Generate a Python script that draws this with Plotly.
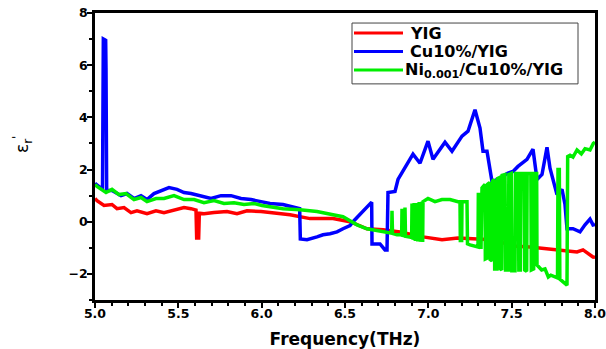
import plotly.graph_objects as go

# Real part of relative permittivity versus frequency (THz)
freq_yig = [5.000, 5.012, 5.054, 5.102, 5.132, 5.174, 5.216, 5.252, 5.312, 5.366,
            5.414, 5.474, 5.534, 5.576, 5.606, 5.610, 5.622, 5.626, 5.654, 5.714,
            5.792, 5.852, 5.912, 5.996, 6.068, 6.170, 6.290, 6.428, 6.530, 6.632,
            6.728, 6.830, 6.968, 7.082, 7.178, 7.310, 7.382, 7.430, 7.508, 7.610,
            7.712, 7.808, 7.892, 7.928, 7.988, 8.000]
eps_yig = [0.89, 0.81, 0.62, 0.66, 0.50, 0.54, 0.35, 0.42, 0.31, 0.42,
           0.35, 0.46, 0.54, 0.50, 0.45, -0.62, -0.62, 0.33, 0.31, 0.35,
           0.39, 0.31, 0.42, 0.39, 0.35, 0.27, 0.12, 0.12, 0.00, -0.27,
           -0.31, -0.39, -0.58, -0.69, -0.62, -0.66, -0.69, -0.77, -0.93, -0.97,
           -1.04, -1.08, -1.16, -1.08, -1.35, -1.36]

freq_cu = [5.000, 5.030, 5.045, 5.050, 5.064, 5.066, 5.070, 5.102, 5.156, 5.192,
           5.234, 5.276, 5.312, 5.354, 5.396, 5.444, 5.492, 5.534, 5.576, 5.636,
           5.696, 5.756, 5.816, 5.876, 5.936, 5.996, 6.050, 6.128, 6.212, 6.228,
           6.232, 6.272, 6.332, 6.368, 6.410, 6.452, 6.488, 6.530, 6.548, 6.590,
           6.650, 6.660, 6.662, 6.710, 6.740, 6.752, 6.758, 6.800, 6.818, 6.848,
           6.890, 6.908, 6.950, 6.998, 7.028, 7.100, 7.142, 7.202, 7.238, 7.280,
           7.310, 7.328, 7.352, 7.382, 7.430, 7.472, 7.508, 7.538, 7.592, 7.628,
           7.652, 7.682, 7.712, 7.730, 7.772, 7.802, 7.820, 7.832, 7.868, 7.910,
           7.940, 7.970, 7.988, 8.000]
eps_cu = [1.47, 1.30, 1.24, 7.00, 6.95, 5.90, 1.20, 1.20, 1.00, 1.08,
          0.89, 1.00, 0.85, 1.08, 1.20, 1.31, 1.24, 1.12, 1.08, 1.00,
          0.89, 1.00, 1.00, 0.89, 0.85, 0.77, 0.70, 0.66, 0.50, 0.50,
          -0.66, -0.69, -0.58, -0.50, -0.46, -0.39, -0.27, -0.15, 0.00, 0.27,
          0.70, 0.75, -0.85, -0.85, -1.08, -1.08, 1.12, 1.16, 1.62, 1.93,
          2.39, 2.59, 2.24, 3.09, 2.39, 3.05, 2.70, 3.28, 3.47, 4.29,
          3.59, 2.70, 2.70, 1.54, 1.66, 1.85, 1.93, 2.12, 2.39, 2.78,
          1.62, 1.81, 2.85, 2.05, 1.04, 1.24, 0.66, -0.27, -0.27, -0.39,
          -0.12, 0.10, -0.12, -0.10]

freq_ni = [5.000, 5.012, 5.066, 5.102, 5.144, 5.186, 5.234, 5.276, 5.312, 5.366,
           5.414, 5.474, 5.534, 5.594, 5.654, 5.714, 5.774, 5.834, 5.894, 5.954,
           6.002, 6.050, 6.128, 6.230, 6.332, 6.428, 6.488, 6.530, 6.572, 6.632,
           6.692, 6.752, 6.780, 6.782, 6.785, 6.812, 6.840, 6.842, 6.845, 6.858,
           6.860, 6.863, 6.900, 6.902, 6.908, 6.915, 6.922, 6.930, 6.937, 6.945,
           6.952, 6.960, 6.966, 6.968, 6.998, 7.040, 7.082, 7.130, 7.178, 7.190,
           7.192, 7.200, 7.202, 7.232, 7.235, 7.250, 7.298, 7.300, 7.310, 7.316,
           7.322, 7.340, 7.342, 7.352, 7.355, 7.368, 7.371, 7.382, 7.385, 7.395,
           7.398, 7.412, 7.415, 7.430, 7.433, 7.440, 7.443, 7.460, 7.463, 7.480,
           7.483, 7.498, 7.501, 7.520, 7.523, 7.540, 7.543, 7.552, 7.555, 7.575,
           7.578, 7.590, 7.593, 7.615, 7.618, 7.632, 7.635, 7.650, 7.652, 7.680,
           7.700, 7.720, 7.735, 7.765, 7.775, 7.778, 7.786, 7.789, 7.820, 7.832,
           7.836, 7.850, 7.868, 7.892, 7.918, 7.940, 7.970, 7.990, 8.000]
eps_ni = [1.43, 1.35, 1.12, 1.24, 1.04, 1.08, 0.85, 0.93, 0.77, 0.89,
          0.89, 1.00, 0.85, 0.85, 0.73, 0.81, 0.70, 0.73, 0.66, 0.70,
          0.62, 0.58, 0.50, 0.46, 0.39, 0.27, 0.19, 0.04, -0.12, -0.27,
          -0.35, -0.42, -0.44, 0.42, -0.45, -0.50, -0.50, 0.50, -0.52, -0.54,
          0.54, -0.56, -0.60, 0.70, -0.70, 0.72, -0.74, 0.72, -0.76, 0.75,
          -0.77, 0.76, -0.78, 0.77, 0.89, 0.77, 0.85, 0.85, 0.77, 0.77,
          -0.72, -0.72, 0.77, 0.77, -0.85, -0.89, -0.97, 1.04, 1.04, -1.04,
          1.30, 1.43, -1.43, -1.40, 1.43, 1.50, -1.45, -1.50, 1.55, 1.62,
          -1.81, -1.81, 1.65, 1.70, -1.81, -1.85, 1.78, 1.81, -1.85, -1.85,
          1.81, 1.85, -1.88, -1.88, 1.85, 1.85, -1.85, -1.85, 1.85, 1.85,
          -1.85, -1.90, 1.85, 1.85, -1.85, -1.81, 1.85, 1.85, -1.66, -1.85,
          -1.81, -2.12, -2.05, -2.12, -2.15, 2.00, 2.00, -2.20, -2.40, -2.43,
          2.50, 2.55, 2.48, 2.75, 2.60, 2.80, 2.75, 3.00, 3.05]

series = [
    ("YIG", freq_yig, eps_yig, "#ff0000"),
    ("Cu10%/YIG", freq_cu, eps_cu, "#0000ff"),
    ("Ni<sub>0.001</sub>/Cu10%/YIG", freq_ni, eps_ni, "#00ee00"),
]

FONT = "DejaVu Sans"

fig = go.Figure()
for name, fx, fy, col in series:
    fig.add_trace(go.Scatter(x=fx, y=fy, mode="lines", name=name,
                             line=dict(color=col, width=3.5), showlegend=False))

axis_common = dict(
    showline=True, linewidth=2.5, linecolor="black", mirror=True,
    ticks="outside", ticklen=5, tickwidth=2, tickcolor="black",
    showgrid=False, zeroline=False, automargin=False,
    ticklabeloverflow="allow",
    tickfont=dict(family=FONT, size=12.5, color="black", weight="bold"),
)

fig.update_xaxes(range=[5.0, 8.0], dtick=0.5, tick0=5.0, tickformat=".1f",
                 ticklabelstandoff=-5,
                 minor=dict(dtick=0.1, ticks="outside", ticklen=3, tickwidth=1.5,
                            tickcolor="black"),
                 title=dict(text="Frequency(THz)", standoff=16,
                            font=dict(family=FONT, size=17, color="black", weight="bold")),
                 **axis_common)
fig.update_yaxes(range=[-3, 8], dtick=2, tick0=0, ticklabelstandoff=-3,
                 minor=dict(dtick=1, ticks="outside", ticklen=3, tickwidth=1.5,
                            tickcolor="black"),
                 **axis_common)

# y-axis label
fig.add_annotation(text="ε<sub>r</sub><sup>'</sup>", textangle=-90,
                   xref="paper", yref="paper", x=-0.146, y=0.54,
                   xanchor="center", yanchor="middle", showarrow=False,
                   font=dict(family=FONT, size=17, color="black"))

# legend box with line samples and labels
fig.add_shape(type="rect", xref="paper", yref="paper",
              x0=0.514, x1=0.966, y0=0.753, y1=0.965,
              line=dict(color="#444444", width=1), fillcolor="white", layer="above")
rows_y = [0.930, 0.866, 0.801]
text_x = [0.626, 0.626, 0.616]
for (name, _, _, col), ry, tx in zip(series, rows_y, text_x):
    fig.add_shape(type="line", xref="paper", yref="paper",
                  x0=0.518, x1=0.616, y0=ry, y1=ry,
                  line=dict(color=col, width=3), layer="above")
    fig.add_annotation(text=name, xref="paper", yref="paper", x=tx, y=ry,
                       xanchor="left", yanchor="middle", showarrow=False,
                       font=dict(family=FONT, size=16, color="black", weight="bold"))

fig.update_layout(
    width=606, height=349,
    margin=dict(l=95, r=11, t=13, b=49),
    paper_bgcolor="white", plot_bgcolor="white",
)

fig.write_html("out.html")
